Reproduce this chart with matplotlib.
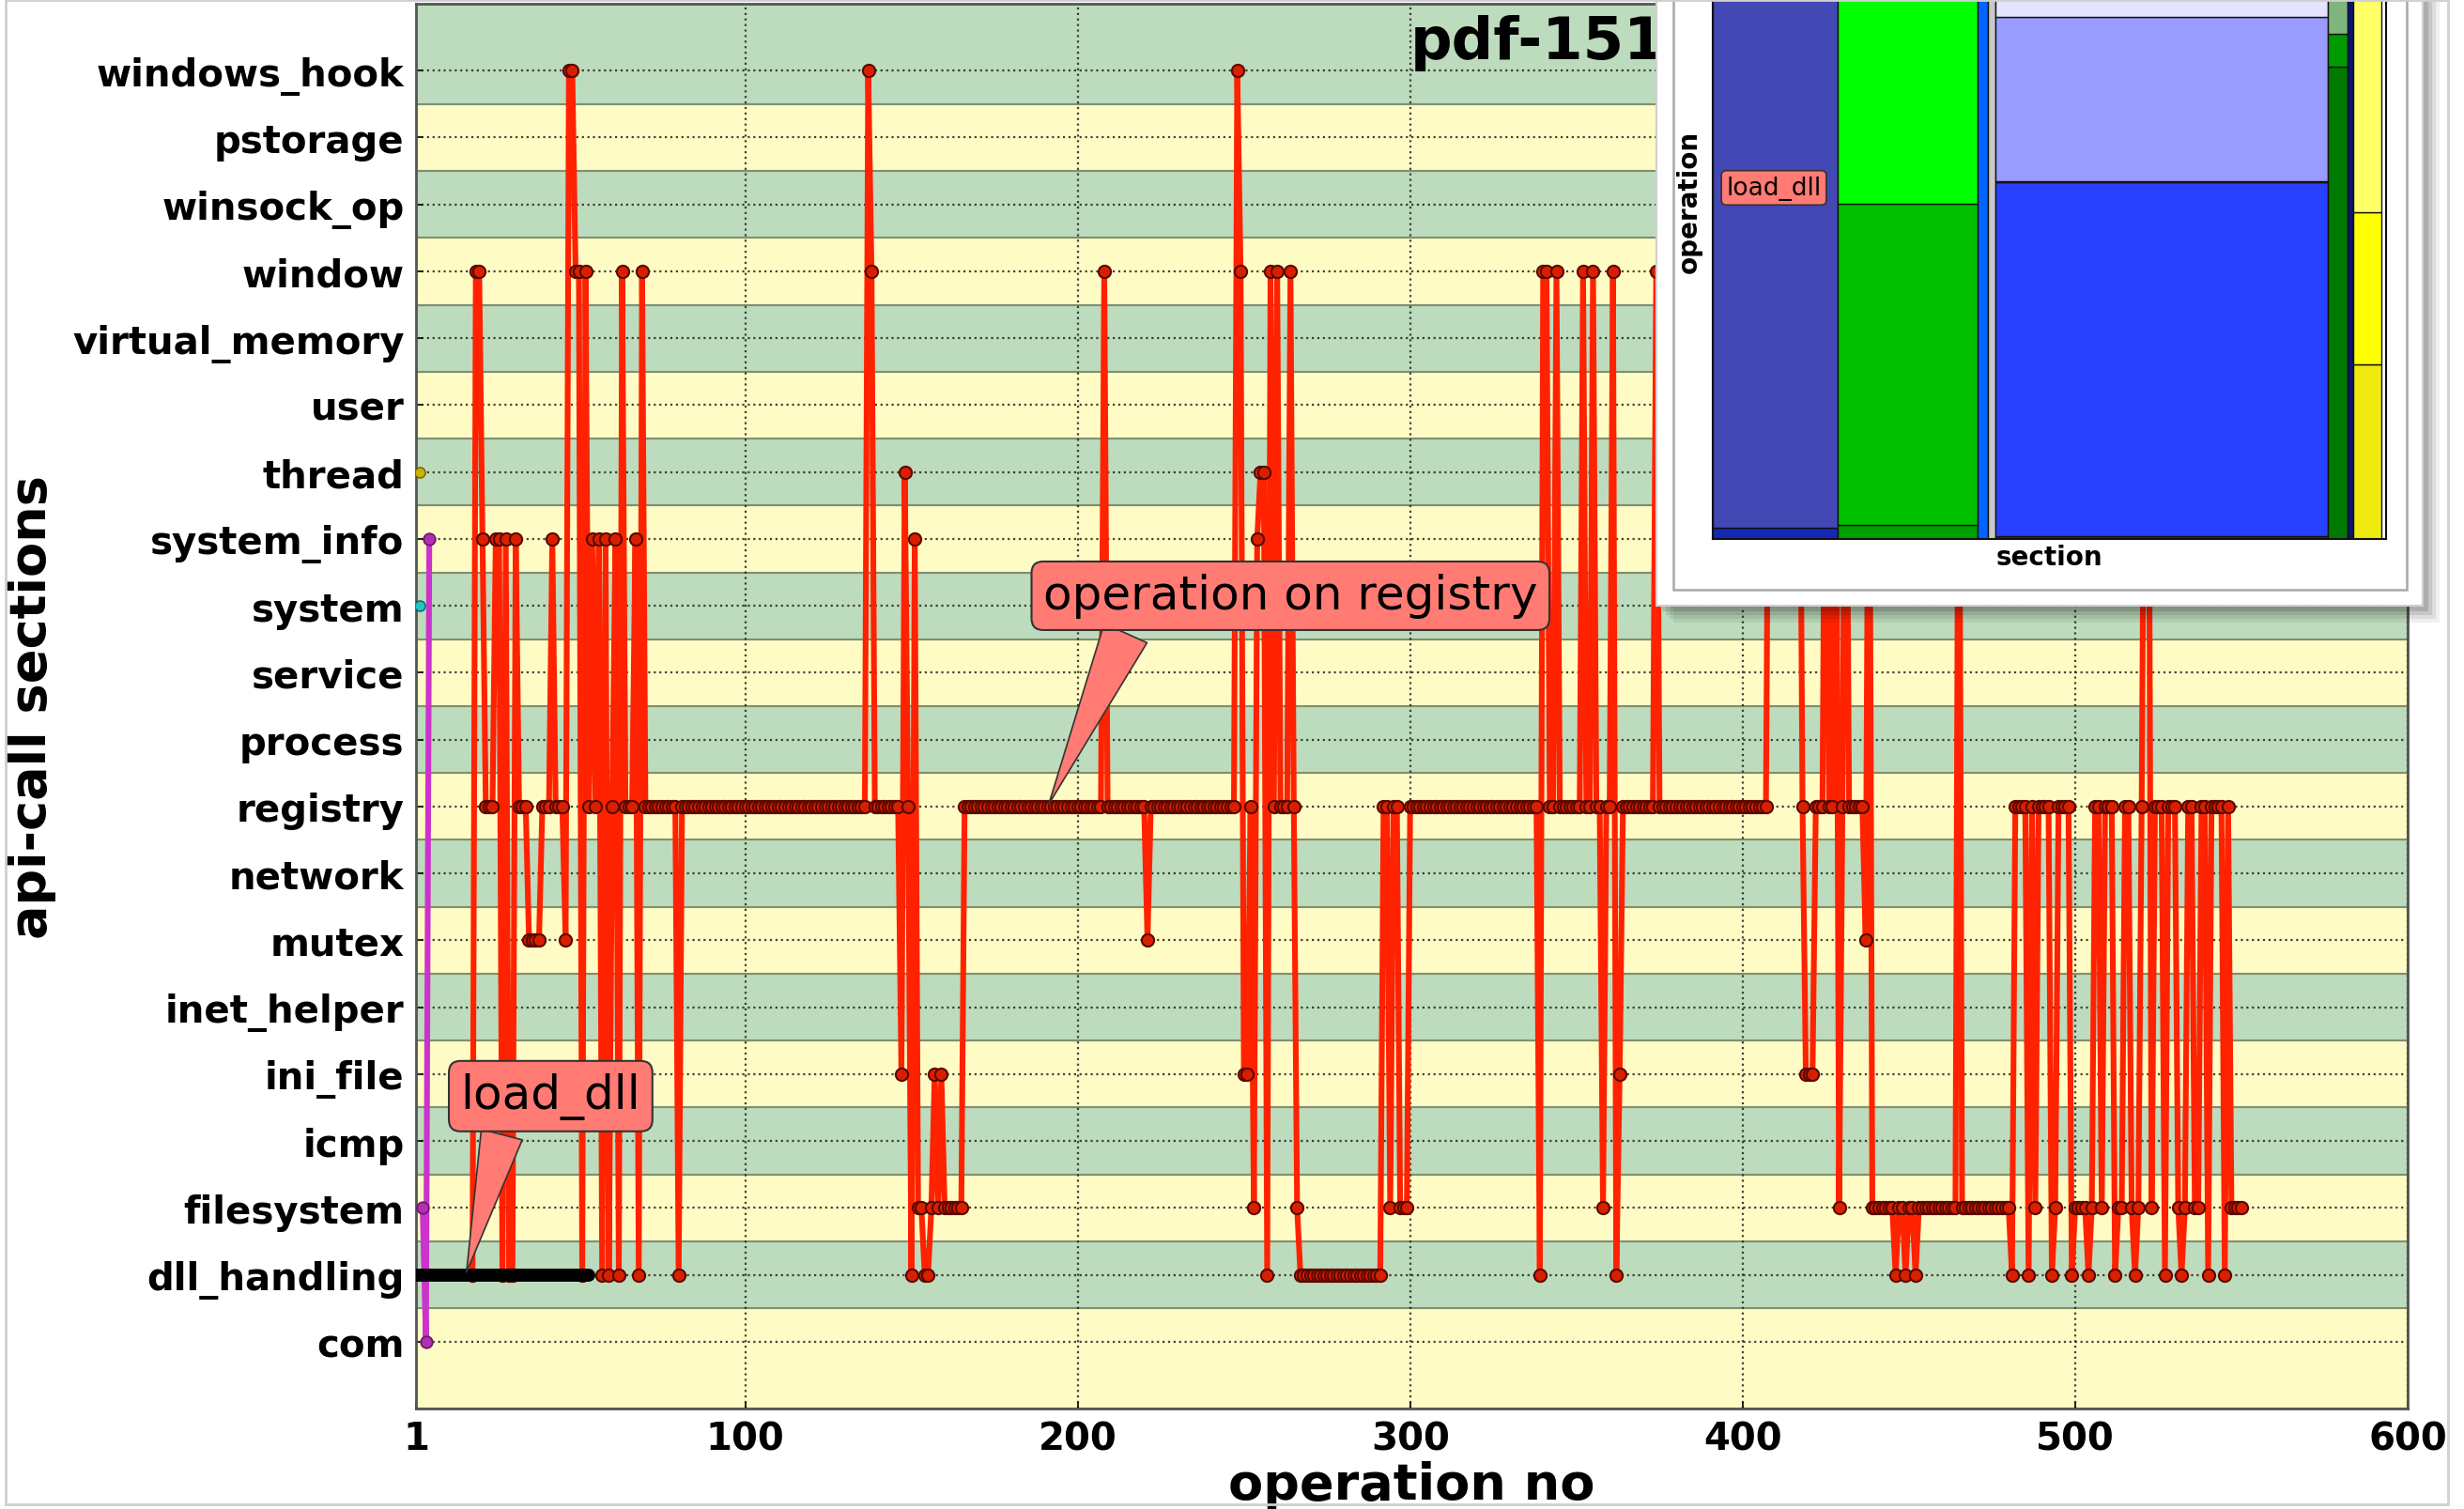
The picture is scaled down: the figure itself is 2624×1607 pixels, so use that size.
import matplotlib
matplotlib.use("Agg")
import matplotlib.pyplot as plt
from matplotlib.patches import Rectangle
import numpy as np

# ---------------- data ----------------
sections = ['com', 'dll_handling', 'filesystem', 'icmp', 'ini_file', 'inet_helper',
            'mutex', 'network', 'registry', 'process', 'service', 'system',
            'system_info', 'thread', 'user', 'virtual_memory', 'window',
            'winsock_op', 'pstorage', 'windows_hook']

x_ticks = [1, 100, 200, 300, 400, 500, 600]

# main (red) process: run-length list of (section, number of consecutive operations)
red_start = 18
red_runs = [
    ('dll_handling', 1), ('window', 2), ('system_info', 1), ('registry', 3),
    ('system_info', 2), ('dll_handling', 1), ('system_info', 1), ('dll_handling', 2),
    ('system_info', 1), ('registry', 3), ('mutex', 4), ('registry', 3),
    ('system_info', 1), ('registry', 3), ('mutex', 1), ('windows_hook', 2),
    ('window', 2), ('dll_handling', 1), ('window', 1), ('registry', 1),
    ('system_info', 1), ('registry', 1), ('system_info', 1), ('dll_handling', 1),
    ('system_info', 1), ('dll_handling', 1), ('registry', 1), ('system_info', 1),
    ('dll_handling', 1), ('window', 1), ('registry', 3), ('system_info', 1),
    ('dll_handling', 1), ('window', 1), ('registry', 10), ('dll_handling', 1),
    ('registry', 56), ('windows_hook', 1), ('window', 1), ('registry', 8),
    ('ini_file', 1), ('thread', 1), ('registry', 1), ('dll_handling', 1),
    ('system_info', 1), ('filesystem', 2), ('dll_handling', 2), ('filesystem', 1),
    ('ini_file', 1), ('filesystem', 1), ('ini_file', 1), ('filesystem', 6),
    ('registry', 42), ('window', 1), ('registry', 12), ('mutex', 1),
    ('registry', 26), ('windows_hook', 1), ('window', 1), ('ini_file', 2),
    ('registry', 1), ('filesystem', 1), ('system_info', 1), ('thread', 2),
    ('dll_handling', 1), ('window', 1), ('registry', 1), ('window', 1),
    ('registry', 3), ('window', 1), ('registry', 1), ('filesystem', 1),
    ('dll_handling', 25), ('registry', 2), ('filesystem', 1), ('registry', 2),
    ('filesystem', 3), ('registry', 39), ('dll_handling', 1), ('window', 2),
    ('registry', 2), ('window', 1), ('registry', 7), ('window', 1),
    ('registry', 2), ('window', 1), ('registry', 2), ('filesystem', 1),
    ('registry', 2), ('window', 1), ('dll_handling', 1), ('ini_file', 1),
    ('registry', 10), ('window', 1), ('registry', 33), ('window', 10),
    ('registry', 1), ('ini_file', 3), ('registry', 3), ('window', 1),
    ('registry', 2), ('window', 1), ('filesystem', 1), ('registry', 1),
    ('window', 1), ('registry', 5), ('mutex', 1), ('window', 1),
    ('filesystem', 7), ('dll_handling', 1), ('filesystem', 2), ('dll_handling', 1),
    ('filesystem', 2), ('dll_handling', 1), ('filesystem', 12), ('window', 1),
    ('filesystem', 15), ('dll_handling', 1), ('registry', 4), ('dll_handling', 1),
    ('registry', 1), ('filesystem', 1), ('registry', 4), ('dll_handling', 1),
    ('filesystem', 1), ('registry', 4), ('dll_handling', 1), ('filesystem', 4),
    ('dll_handling', 1), ('filesystem', 1), ('registry', 2), ('filesystem', 1),
    ('registry', 3), ('dll_handling', 1), ('filesystem', 2), ('registry', 2),
    ('filesystem', 1), ('dll_handling', 1), ('filesystem', 1), ('registry', 1),
    ('window', 2), ('filesystem', 1), ('registry', 3), ('dll_handling', 1),
    ('registry', 3), ('filesystem', 1), ('dll_handling', 1), ('filesystem', 1),
    ('registry', 2), ('filesystem', 2), ('registry', 2), ('dll_handling', 1),
    ('registry', 4), ('dll_handling', 1), ('registry', 1), ('filesystem', 4),
]

# second (magenta) process
magenta_x = [3, 4, 5]
magenta_sec = ['filesystem', 'com', 'system_info']
# single operations of two more processes
thread_x, thread_sec = [2], ['thread']
system_x, system_sec = [2], ['system']

# highlighted load_dll run
loaddll_x = [1, 53]
loaddll_sec = ['dll_handling', 'dll_handling']

# inset mosaic: column sizes (operations per section) and operation shares inside
mosaic_sizes = [133, 149, 11, 8, 354, 21, 6, 30, 5]
mosaic_shares = [
    [0.016, 0.984],
    [0.020, 0.476, 0.504],
    [1.0],
    [1.0],
    [0.0035, 0.524, 0.0015, 0.243, 0.228],
    [0.699, 0.049, 0.252],
    [1.0],
    [0.258, 0.225, 0.517],
    [],
]
mosaic_colors = [
    ['#1428b4', '#4348b4'],
    ['#00a000', '#00c000', '#00ff00'],
    ['#0064ff'],
    ['#c8c8c8'],
    ['#1428d0', '#2a40ff', '#2a40ff', '#9a9cff', '#e4e4ff'],
    ['#007a00', '#009900', '#7db57d'],
    ['#0a1478'],
    ['#eeea10', '#ffff00', '#ffff66'],
    [],
]

# ---------------- figure ----------------
W, H = 2624, 1608
fig = plt.figure(figsize=(W / 100, H / 100), dpi=100)
fig.patch.set_facecolor('white')


def fx(x):
    return x / W


def fy(y):
    return 1 - y / H


ax = fig.add_axes([fx(443), fy(1501), fx(2564) - fx(443), fy(5) - fy(1501)])
ax.set_zorder(0)

yellow, green = '#fffbc4', '#bddbbd'
n = len(sections)
for i in range(n):
    lo = i - 0.5 if i > 0 else -1.0
    hi = i + 0.5 if i < n - 1 else 20.0
    ax.axhspan(lo, hi, facecolor=green if i % 2 else yellow,
               edgecolor='#7f9070', linewidth=1.5, zorder=0)

sec_idx = {s: i for i, s in enumerate(sections)}
red_names = [s for s, k in red_runs for _ in range(k)]
red_x = np.arange(red_start, red_start + len(red_names))
red_y = [sec_idx[s] for s in red_names]

ax.plot(red_x, red_y, color='#ff2200', lw=4.4, marker='o', ms=9.5,
        mfc='#d82000', mec='#5a0800', mew=1.5, zorder=3)
ax.plot(magenta_x, [sec_idx[s] for s in magenta_sec], color='#cc33cc', lw=4.4,
        marker='o', ms=9, mfc='#b22fb2', mec='#6a1a6a', mew=1.3, zorder=3)
ax.plot(thread_x, [sec_idx[s] for s in thread_sec], 'o', ms=8, mfc='#c8b400',
        mec='#6a6000', zorder=3)
ax.plot(system_x, [sec_idx[s] for s in system_sec], 'o', ms=8, mfc='#22c4c4',
        mec='#106060', zorder=3)
ax.plot(loaddll_x, [sec_idx[s] for s in loaddll_sec], color='black', lw=10,
        solid_capstyle='round', zorder=5)

ax.set_xlim(1, 600)
ax.set_ylim(-1, 20)
ax.set_xticks(x_ticks)
ax.set_yticks(range(n))
ax.set_yticklabels(sections)
ax.grid(True, linestyle=':', color='#222222', linewidth=1.6, alpha=0.85)
ax.set_axisbelow(True)
ax.tick_params(axis='both', direction='in', length=5, width=1.2, labelsize=29)
ax.tick_params(axis='y', pad=9)
ax.tick_params(axis='x', pad=9)
for lab in ax.get_xticklabels() + ax.get_yticklabels():
    lab.set_fontweight('bold')
for sp in ax.spines.values():
    sp.set_color('#555555')
    sp.set_linewidth(2)

ax.set_xlabel('operation no', fontsize=39, fontweight='bold', labelpad=2)
ax.set_ylabel('api-call sections', fontsize=39, fontweight='bold', labelpad=12)

ax.text(300, 19.84, 'pdf-1518', fontsize=45, fontweight='bold', ha='left',
        va='top', zorder=6)

box_fc = '#ff7b73'
ax.annotate('operation on registry', xy=(191, 8), xytext=(264, 11.15),
            textcoords='data', fontsize=36, ha='center', va='center', zorder=8,
            bbox=dict(boxstyle='round,pad=0.25', fc=box_fc, ec='#333333', lw=1.5),
            arrowprops=dict(arrowstyle='wedge,tail_width=1.0', fc=box_fc,
                            ec='#333333', lw=1.2, relpos=(0.18, 0.0)))
ax.annotate('load_dll', xy=(16, 1), xytext=(41.5, 3.67),
            textcoords='data', fontsize=36, ha='center', va='center', zorder=8,
            bbox=dict(boxstyle='round,pad=0.25', fc=box_fc, ec='#333333', lw=1.5),
            arrowprops=dict(arrowstyle='wedge,tail_width=0.9', fc=box_fc,
                            ec='#333333', lw=1.2, relpos=(0.25, 0.0)))

# ---------------- inset panel ----------------
def frect(x0, y0, x1, y1, **kw):
    r = Rectangle((fx(x0), fy(y1)), fx(x1) - fx(x0), fy(y0) - fy(y1),
                  transform=fig.transFigure, **kw)
    fig.patches.append(r)
    return r

for off, a in [(18, 0.06), (14, 0.08), (10, 0.10), (6, 0.12)]:
    frect(1764 + off, -60, 2580 + off, 646 + off, facecolor='black', alpha=a,
          edgecolor='none', zorder=2)
frect(1764, -60, 2580, 646, facecolor='white', edgecolor='#d0d0d0', lw=1.5, zorder=3)
frect(1782, -60, 2563, 629, facecolor='white', edgecolor='#a8a8a8', lw=1.8, zorder=4)

iax = fig.add_axes([fx(1824), fy(574.5), fx(2541) - fx(1824), fy(-144.5) - fy(574.5)])
iax.set_zorder(10)
x0 = 0
for w, shares, cols in zip(mosaic_sizes, mosaic_shares, mosaic_colors):
    b = 0
    for s, c in zip(shares, cols):
        iax.bar(x0, s, width=w, bottom=b, align='edge', color=c,
                edgecolor='#111111', linewidth=1.0)
        b += s
    x0 += w
iax.set_xlim(0, sum(mosaic_sizes))
iax.set_ylim(0, 1)
iax.set_xticks([])
iax.set_yticks([])
for sp in iax.spines.values():
    sp.set_color('#111111')
    sp.set_linewidth(1.5)
iax.set_xlabel('section', fontsize=20, fontweight='bold', labelpad=4)
iax.set_ylabel('operation', fontsize=20, fontweight='bold', labelpad=8)
iax.text(0.0907, 0.5195, 'load_dll', transform=iax.transAxes, fontsize=19,
         ha='center', va='center',
         bbox=dict(boxstyle='round,pad=0.2', fc=box_fc, ec='#333333', lw=1.2))

# outer frame of the picture
frect(6, 1, 2607, 1603, facecolor='none', edgecolor='#cfcfcf', lw=2, zorder=20)

fig.savefig('out.png', dpi=100)
